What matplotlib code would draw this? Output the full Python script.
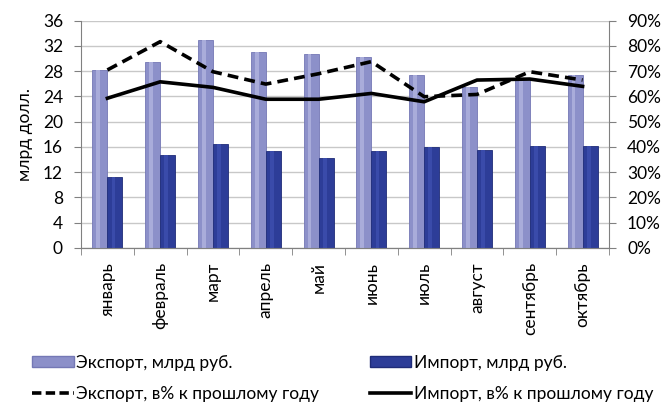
import matplotlib
matplotlib.use("Agg")
import matplotlib.pyplot as plt
import numpy as np
from matplotlib.lines import Line2D
from matplotlib.patches import Patch

months = ["январь", "февраль", "март", "апрель", "май", "июнь", "июль", "август", "сентябрь", "октябрь"]
export_bln = [28.2, 29.4, 33.0, 31.0, 30.7, 30.2, 27.4, 25.5, 26.7, 27.4]
import_bln = [11.2, 14.7, 16.4, 15.4, 14.3, 15.3, 16.0, 15.6, 16.2, 16.1]
export_pct = [70.5, 81.7, 69.8, 64.9, 69.0, 73.8, 59.9, 60.8, 69.8, 66.5]
import_pct = [59.3, 65.8, 63.6, 58.9, 58.9, 61.2, 57.9, 66.5, 66.9, 64.0]

plt.rcParams['font.family'] = ['Lato', 'DejaVu Sans']
FS = 12.5

fig = plt.figure(figsize=(6.68, 4.03), dpi=100)
ax = fig.add_axes([81/668, 1-248/403, (609-81)/668, (248-20.7)/403])
ax2 = ax.twinx()

x = np.arange(len(months))
w = 0.285
exp_col = "#8C90C9"
imp_col = "#2D3D98"
ax.bar(x - w/2, export_bln, w, color=exp_col, edgecolor="#7478B5", linewidth=0.6, zorder=3)
ax.bar(x + w/2, import_bln, w, color=imp_col, edgecolor="#1F2C78", linewidth=0.6, zorder=3)
# highlight strip for cylinder look
ax.bar(x - w/2 - w*0.1, export_bln, w*0.25, color="#A9ACDA", linewidth=0, zorder=3.5)
ax.bar(x + w/2 - w*0.1, import_bln, w*0.25, color="#3A4BAA", linewidth=0, zorder=3.5)

ax.set_ylim(0, 36)
ax.set_yticks(np.arange(0, 37, 4))
ax.set_xlim(-0.5, len(months) - 0.5)
ax.yaxis.grid(True, color="#C8C8C8", linewidth=1, zorder=0)
ax.set_axisbelow(True)
ax.set_xticks(x)
ax.set_xticklabels(months, rotation=90, fontsize=FS)
ax.tick_params(axis='x', length=0, pad=10)
ax.set_xticks(np.arange(-0.5, len(months), 1), minor=True)
ax.tick_params(axis='x', which='minor', length=5, color="#808080")
ax.tick_params(axis='y', labelsize=FS, length=5, color="#808080", pad=8)
ax.set_ylabel("млрд долл.", fontsize=FS)
ax.yaxis.set_label_coords(-0.09, 0.5)

ax2.plot(x, export_pct, color="black", linestyle=(0, (3, 1.7)), linewidth=2.6, zorder=5)
ax2.plot(x, import_pct, color="black", linestyle="-", linewidth=2.6, zorder=5)
ax2.set_ylim(0, 90)
ax2.set_yticks(np.arange(0, 91, 10))
ax2.set_yticklabels([f"{v}%" for v in range(0, 91, 10)])
ax2.tick_params(axis='y', labelsize=FS, length=5, color="#808080", pad=8)

for a in (ax, ax2):
    a.spines['top'].set_visible(False)
    a.spines['left'].set_color("#808080")
    a.spines['right'].set_color("#808080")
    a.spines['bottom'].set_color("#808080")
ax.spines['right'].set_visible(False)
ax2.spines['left'].set_visible(False)

handles = [
    Patch(facecolor=exp_col, edgecolor="#7478B5"),
    Line2D([0], [0], color="black", linestyle=(0, (2.6, 1.2)), linewidth=2.6),
    Patch(facecolor=imp_col, edgecolor="#1F2C78"),
    Line2D([0], [0], color="black", linestyle="-", linewidth=2.6),
]
labels = ["Экспорт, млрд руб.", "Экспорт, в% к прошлому году",
          "Импорт, млрд руб.", "Импорт, в% к прошлому году"]
fig.legend(handles, labels, ncol=2, loc="lower left", bbox_to_anchor=(20/668, -0.027),
           frameon=False, fontsize=FS, handlelength=2.4, handletextpad=0.15,
           columnspacing=2.9, labelspacing=0.85, handleheight=0.6, borderaxespad=0.3)

fig.savefig("out.png", dpi=100)
